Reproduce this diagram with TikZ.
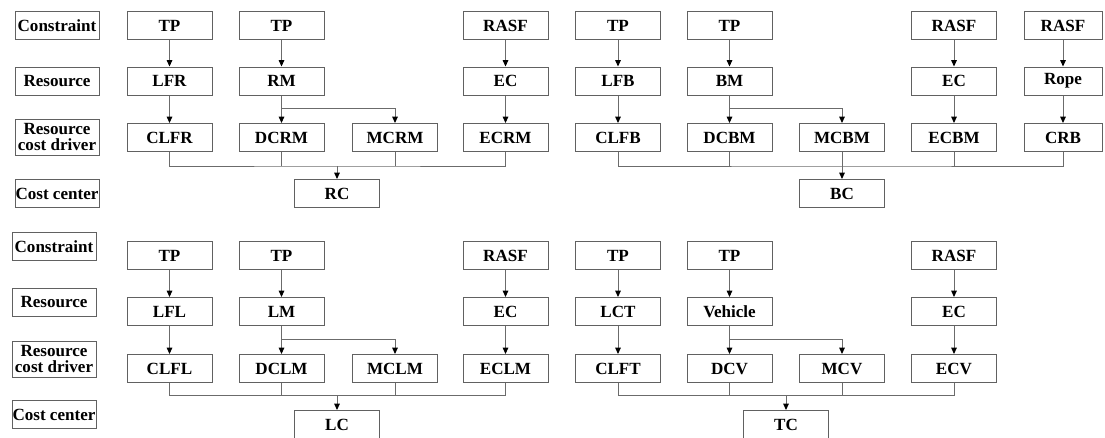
\documentclass[tikz,border=0pt]{standalone}
\usepackage{fontspec}
\setmainfont{Liberation Serif}
\usetikzlibrary{arrows.meta}
\begin{document}
\begin{tikzpicture}[x=0.75pt,y=-0.75pt,
  box/.style={draw=black!62,line width=0.75pt,minimum width=63.75pt,minimum height=21pt,inner sep=0pt,
    font=\fontsize{12.8}{12}\selectfont\bfseries,text=black},
  narrowbox/.style={box,minimum width=58.5pt},
  lab/.style={draw=black!62,line width=0.75pt,minimum width=63pt,minimum height=21pt,inner sep=0pt,
    font=\fontsize{12.8}{12}\selectfont\bfseries,align=center},
  twolab/.style={lab,minimum height=27pt},
  line/.style={draw=black!58,line width=0.7pt},
  conn/.style={line,-{Triangle[length=4.8pt,width=4.2pt,color=black]}}]
\useasboundingbox (0,0) rectangle (1105,437);
\clip (0,0) rectangle (1105,437);
% ---------- top: labels
\node[lab] (tl1) at (57,25.5) {Constraint};
\node[lab] (tl2) at (57,81) {Resource};
\node[twolab] (tl3) at (57,137) {Resource\\cost driver};
\node[lab] (tl4) at (57,193.5) {Cost center};
% ---------- top: RC group
\node[box] (a1) at (169.5,25.5) {TP};
\node[box] (a2) at (281.5,25.5) {TP};
\node[box] (a4) at (505.5,25.5) {RASF};
\node[box] (b1) at (169.5,81) {LFR};
\node[box] (b2) at (281.5,81) {RM};
\node[box] (b4) at (505.5,81) {EC};
\node[box] (c1) at (169.5,137.5) {CLFR};
\node[box] (c2) at (281.5,137.5) {DCRM};
\node[box] (c3) at (395,137.5) {MCRM};
\node[box] (c4) at (505.5,137.5) {ECRM};
\node[box] (rc) at (337,193.5) {RC};
% ---------- top: BC group
\node[box] (a5) at (618,25.5) {TP};
\node[box] (a6) at (729.5,25.5) {TP};
\node[box] (a8) at (954,25.5) {RASF};
\node[narrowbox] (a9) at (1063,25.5) {RASF};
\node[box] (b5) at (618,81) {LFB};
\node[box] (b6) at (729.5,81) {BM};
\node[box] (b8) at (954,81) {EC};
\node[narrowbox] (b9) at (1063,81) {Rope};
\node[box] (c5) at (618,137.5) {CLFB};
\node[box] (c6) at (729.5,137.5) {DCBM};
\node[box] (c7) at (842,137.5) {MCBM};
\node[box] (c8) at (954,137.5) {ECBM};
\node[narrowbox] (c9) at (1063,137.5) {CRB};
\node[box] (bc) at (842,193.5) {BC};
% top connectors
\foreach \i in {1,2,4,5,6,8,9} {\draw[conn] (a\i) -- (b\i);}
\foreach \i in {1,4,5,8,9} {\draw[conn] (b\i) -- (c\i);}
\draw[conn] (b2) -- (c2);
\coordinate (s1) at (281.5,108);
\draw[conn] (s1) -| (c3.north);
\draw[conn] (b6) -- (c6);
\coordinate (s2) at (729.5,108);
\draw[conn] (s2) -| (c7.north);
\coordinate (bus1) at (337,166);
\draw[line] (c1.south) |- (bus1) -| (c4.south);
\draw[line] (c2.south) -- (c2.south |- bus1);
\draw[line] (c3.south) -- (c3.south |- bus1);
\draw[conn] (bus1) -- (rc.north);
\coordinate (bus2) at (842,166);
\draw[line] (c5.south) |- (bus2) -| (c9.south);
\draw[line] (c6.south) -- (c6.south |- bus2);
\draw[line] (c8.south) -- (c8.south |- bus2);
\draw[conn] (c7.south) -- (bc.north);
% ---------- bottom: labels
\node[lab] (bl1) at (54,246.5) {Constraint};
\node[lab] (bl2) at (54,302.5) {Resource};
\node[twolab] (bl3) at (54,359) {Resource\\cost driver};
\node[lab] (bl4) at (54,414.5) {Cost center};
% ---------- bottom: LC group
\node[box] (d1) at (169.5,255.5) {TP};
\node[box] (d2) at (281.5,255.5) {TP};
\node[box] (d4) at (505.5,255.5) {RASF};
\node[box] (e1) at (169.5,311.5) {LFL};
\node[box] (e2) at (281.5,311.5) {LM};
\node[box] (e4) at (505.5,311.5) {EC};
\node[box] (f1) at (169.5,368.5) {CLFL};
\node[box] (f2) at (281.5,368.5) {DCLM};
\node[box] (f3) at (395,368.5) {MCLM};
\node[box] (f4) at (505.5,368.5) {ECLM};
\node[box] (lc) at (337,424.5) {LC};
% ---------- bottom: TC group
\node[box] (d5) at (618,255.5) {TP};
\node[box] (d6) at (729.5,255.5) {TP};
\node[box] (d8) at (954,255.5) {RASF};
\node[box] (e5) at (618,311.5) {LCT};
\node[box] (e6) at (729.5,311.5) {Vehicle};
\node[box] (e8) at (954,311.5) {EC};
\node[box] (f5) at (618,368.5) {CLFT};
\node[box] (f6) at (729.5,368.5) {DCV};
\node[box] (f7) at (842,368.5) {MCV};
\node[box] (f8) at (954,368.5) {ECV};
\node[box] (tc) at (786,424.5) {TC};
% bottom connectors
\foreach \i in {1,2,4,5,6,8} {\draw[conn] (d\i) -- (e\i);}
\foreach \i in {1,2,4,5,6,8} {\draw[conn] (e\i) -- (f\i);}
\coordinate (s3) at (281.5,339);
\draw[conn] (s3) -| (f3.north);
\coordinate (s4) at (729.5,339);
\draw[conn] (s4) -| (f7.north);
\coordinate (bus3) at (337,395);
\draw[line] (f1.south) |- (bus3) -| (f4.south);
\draw[line] (f2.south) -- (f2.south |- bus3);
\draw[line] (f3.south) -- (f3.south |- bus3);
\draw[conn] (bus3) -- (lc.north);
\coordinate (bus4) at (786,395);
\draw[line] (f5.south) |- (bus4) -| (f8.south);
\draw[line] (f6.south) -- (f6.south |- bus4);
\draw[line] (f7.south) -- (f7.south |- bus4);
\draw[conn] (bus4) -- (tc.north);
\end{tikzpicture}
\end{document}
